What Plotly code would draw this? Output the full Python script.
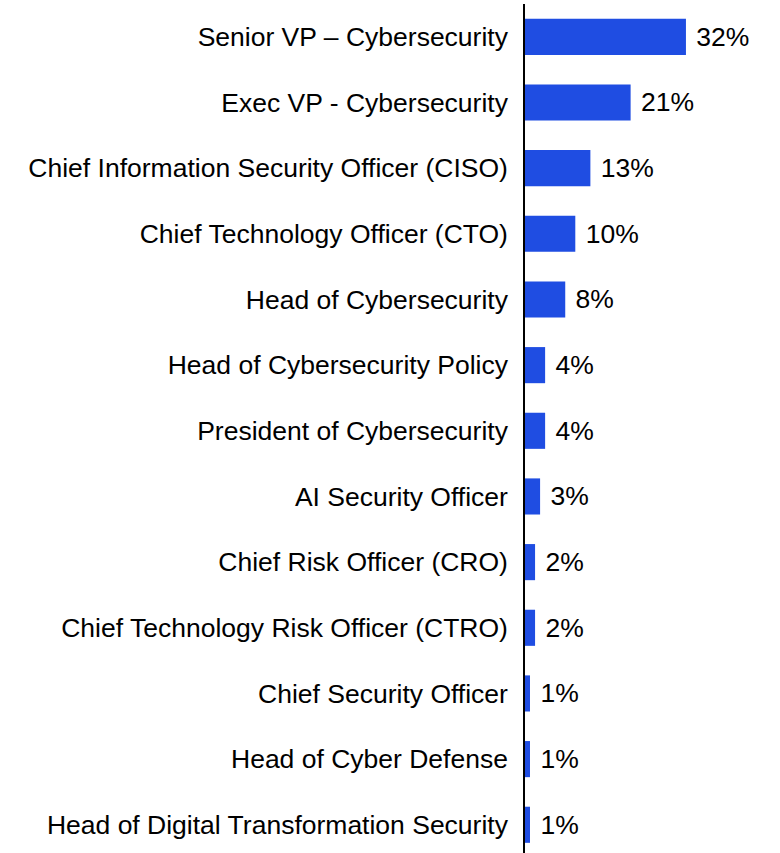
import plotly.graph_objects as go

roles = [
    "Senior VP – Cybersecurity",
    "Exec VP - Cybersecurity",
    "Chief Information Security Officer (CISO)",
    "Chief Technology Officer (CTO)",
    "Head of Cybersecurity",
    "Head of Cybersecurity Policy",
    "President of Cybersecurity",
    "AI Security Officer",
    "Chief Risk Officer (CRO)",
    "Chief Technology Risk Officer (CTRO)",
    "Chief Security Officer",
    "Head of Cyber Defense",
    "Head of Digital Transformation Security",
]
shares = [32, 21, 13, 10, 8, 4, 4, 3, 2, 2, 1, 1, 1]

BAR_COLOR = "#1f4de2"
FONT = "Liberation Sans, Arial, sans-serif"
SIZE = 26.5

fig = go.Figure(
    go.Bar(
        x=shares,
        y=roles,
        orientation="h",
        marker=dict(color=BAR_COLOR, line=dict(width=0)),
        width=0.55,
        text=[f" {v}%" for v in shares],
        textposition="outside",
        textfont=dict(family=FONT, size=SIZE, color="#000000"),
        cliponaxis=False,
    )
)

fig.update_layout(
    width=780,
    height=853,
    margin=dict(l=525, r=0, t=4, b=0),
    paper_bgcolor="white",
    plot_bgcolor="white",
    showlegend=False,
    font=dict(family=FONT, size=SIZE, color="#000000"),
    xaxis=dict(
        range=[0, 50.7],
        visible=False,
        showgrid=False,
        zeroline=False,
    ),
    yaxis=dict(
        categoryorder="array",
        categoryarray=roles,
        range=[12.43, -0.5],
        showline=True,
        linecolor="#000000",
        linewidth=1.5,
        ticks="",
        ticklabelstandoff=10,
        showgrid=False,
        tickfont=dict(family=FONT, size=SIZE, color="#000000"),
    ),
)

fig.write_html("out.html")
